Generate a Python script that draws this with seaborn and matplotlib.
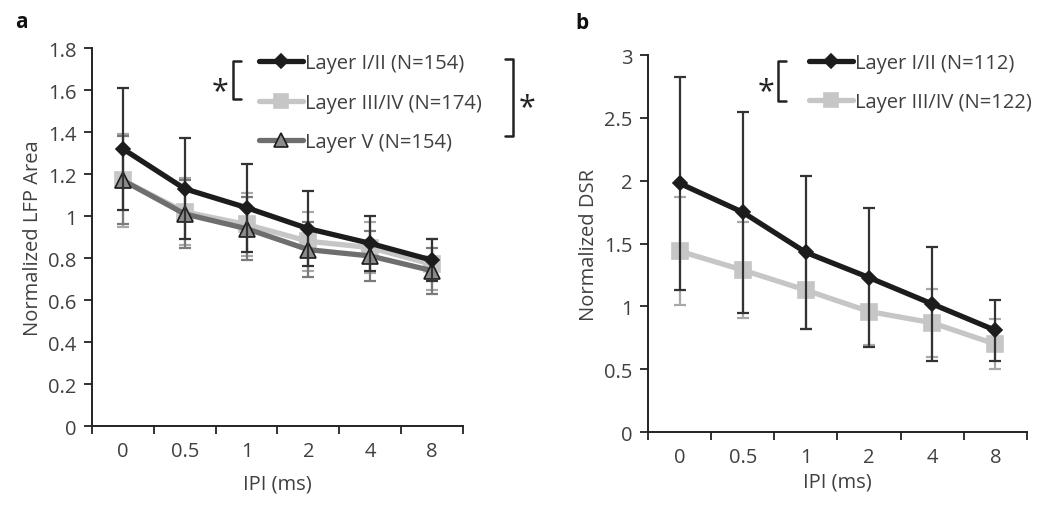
import numpy as np
import matplotlib
matplotlib.use("Agg")
import matplotlib.pyplot as plt
from matplotlib.ticker import FixedLocator
from matplotlib.lines import Line2D
import seaborn as sns

# ---------------- data ----------------
ipi = ["0", "0.5", "1", "2", "4", "8"]

lfp_l12 = [1.32, 1.13, 1.04, 0.94, 0.87, 0.79]
lfp_l12_err = [0.29, 0.24, 0.21, 0.18, 0.13, 0.10]
lfp_l34 = [1.17, 1.02, 0.96, 0.88, 0.85, 0.77]
lfp_l34_err = [0.22, 0.16, 0.15, 0.14, 0.12, 0.12]
lfp_l5 = [1.17, 1.01, 0.94, 0.84, 0.81, 0.74]
lfp_l5_err = [0.21, 0.16, 0.15, 0.13, 0.12, 0.11]

dsr_l12 = [1.98, 1.75, 1.43, 1.23, 1.02, 0.81]
dsr_l12_err = [0.85, 0.80, 0.61, 0.55, 0.45, 0.24]
dsr_l34 = [1.44, 1.29, 1.13, 0.96, 0.87, 0.70]
dsr_l34_err = [0.43, 0.38, 0.31, 0.27, 0.27, 0.20]

labels_a = ["Layer I/II (N=154)", "Layer III/IV (N=174)", "Layer V (N=154)"]
labels_b = ["Layer I/II (N=112)", "Layer III/IV (N=122)"]

yticks_a = [0, 0.2, 0.4, 0.6, 0.8, 1, 1.2, 1.4, 1.6, 1.8]
yticks_b = [0, 0.5, 1, 1.5, 2, 2.5, 3]

# ---------------- style ----------------
sns.set_theme(style="white")
plt.rcParams["font.family"] = ["Open Sans", "DejaVu Sans"]
TXT = "#404040"
plt.rcParams["text.color"] = TXT
plt.rcParams["axes.labelcolor"] = TXT
plt.rcParams["xtick.color"] = TXT
plt.rcParams["ytick.color"] = TXT
FS = 14.5

styles = {
    "l12": dict(color="#1c1c1c", marker="D", ms=7, mfc="#1c1c1c", mec="#1c1c1c", ecol="#333333"),
    "l34": dict(color="#c6c6c6", marker="s", ms=11, mfc="#c6c6c6", mec="#c6c6c6", ecol="#a8a8a8"),
    "l5": dict(color="#6e6e6e", marker="^", ms=11, mfc="#8c8c8c", mec="#1c1c1c", ecol="#7a7a7a"),
}

fig = plt.figure(figsize=(10.5, 5.06), dpi=100)
ax_a = fig.add_axes([0.0876, 0.156, 0.3533, 0.747])
ax_b = fig.add_axes([0.6171, 0.144, 0.361, 0.745])


def draw_series(ax, y, err, key, z):
    st = styles[key]
    ax.errorbar(ipi, y, yerr=err, fmt="none", ecolor=st["ecol"], elinewidth=1.6,
                capsize=4.5, capthick=1.6, zorder=z)
    sns.lineplot(x=ipi, y=y, ax=ax, sort=False, color=st["color"], lw=3.8,
                 marker=st["marker"], markersize=st["ms"], markerfacecolor=st["mfc"],
                 markeredgecolor=st["mec"], markeredgewidth=1.2, zorder=z + 1)


def style_axis(ax, yticks, ylabel):
    ax.set_xlim(-0.5, len(ipi) - 0.5)
    ax.set_ylim(yticks[0], yticks[-1])
    ax.set_yticks(yticks)
    ax.set_yticklabels([f"{t:g}" for t in yticks], fontsize=FS)
    ax.set_xticks(range(len(ipi)))
    ax.set_xticklabels(ipi, fontsize=FS)
    ax.xaxis.set_minor_locator(FixedLocator(np.arange(-0.5, len(ipi), 1.0)))
    ax.tick_params(axis="x", which="major", length=0, pad=11)
    ax.tick_params(axis="x", which="minor", length=6, width=1.3, direction="out", color="#222222", bottom=True)
    ax.tick_params(axis="y", which="major", length=6, width=1.3, direction="out", color="#222222", left=True, pad=5)
    for s in ["top", "right"]:
        ax.spines[s].set_visible(False)
    for s in ["left", "bottom"]:
        ax.spines[s].set_color("#222222")
        ax.spines[s].set_linewidth(1.4)
    ax.set_ylabel(ylabel, fontsize=FS, labelpad=4)
    ax.grid(False)


# ---------------- panel a ----------------
draw_series(ax_a, lfp_l34, lfp_l34_err, "l34", 2)
draw_series(ax_a, lfp_l5, lfp_l5_err, "l5", 4)
draw_series(ax_a, lfp_l12, lfp_l12_err, "l12", 6)
style_axis(ax_a, yticks_a, "Normalized LFP Area")
ax_a.set_xlabel("IPI (ms)", fontsize=FS, labelpad=9)


def legend_handles(keys):
    hs = []
    for k in keys:
        st = styles[k]
        ms = st["ms"] * (0.9 if k != "l12" else 1.0)
        hs.append(Line2D([], [], color=st["color"], lw=3.8, marker=st["marker"], markersize=ms,
                         markerfacecolor=st["mfc"], markeredgecolor=st["mec"], markeredgewidth=1.2))
    return hs


leg_a = ax_a.legend(legend_handles(["l12", "l34", "l5"]), labels_a, loc="upper left",
                    bbox_to_anchor=(0.429, 1.007), frameon=False, fontsize=FS,
                    handlelength=2.2, handletextpad=0.1, labelspacing=0.95, borderaxespad=0)
for t in leg_a.get_texts():
    t.set_color(TXT)

# significance brackets panel a
tr = ax_a.transAxes
ax_a.plot([0.402, 0.380, 0.380, 0.402], [0.966, 0.966, 0.865, 0.865], transform=tr,
          color="#222222", lw=1.8, clip_on=False)
ax_a.text(0.345, 0.885, "*", transform=tr, fontsize=22, ha="center", va="center", color="#222222")
ax_a.plot([1.113, 1.135, 1.135, 1.113], [0.971, 0.971, 0.767, 0.767], transform=tr,
          color="#222222", lw=1.8, clip_on=False)
ax_a.text(1.172, 0.845, "*", transform=tr, fontsize=22, ha="center", va="center", color="#222222")

# ---------------- panel b ----------------
draw_series(ax_b, dsr_l34, dsr_l34_err, "l34", 2)
draw_series(ax_b, dsr_l12, dsr_l12_err, "l12", 6)
style_axis(ax_b, yticks_b, "Normalized DSR")
ax_b.set_xlabel("IPI (ms)", fontsize=FS, labelpad=3)

leg_b = ax_b.legend(legend_handles(["l12", "l34"]), labels_b, loc="upper left",
                    bbox_to_anchor=(0.404, 1.027), frameon=False, fontsize=FS,
                    handlelength=2.2, handletextpad=0.1, labelspacing=0.95, borderaxespad=0)
for t in leg_b.get_texts():
    t.set_color(TXT)

trb = ax_b.transAxes
ax_b.plot([0.365, 0.343, 0.343, 0.365], [0.984, 0.984, 0.878, 0.878], transform=trb,
          color="#222222", lw=1.8, clip_on=False)
ax_b.text(0.312, 0.905, "*", transform=trb, fontsize=22, ha="center", va="center", color="#222222")

# panel letters
fig.text(0.014, 0.955, "a", fontsize=15, fontweight="bold", color="#111111", va="center")
fig.text(0.548, 0.953, "b", fontsize=15, fontweight="bold", color="#111111", va="center")

fig.savefig("out.png", dpi=100, facecolor="white")
